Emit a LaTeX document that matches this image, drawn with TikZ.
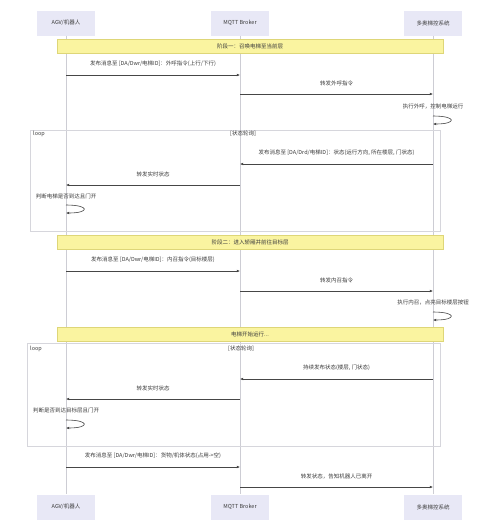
\documentclass[tikz,border=0pt]{standalone}
\usepackage{fontspec}
\setmainfont{Noto Sans CJK SC}
\usepackage{tikz}
\usetikzlibrary{arrows.meta,calc}

\definecolor{actorfill}{RGB}{232,232,246}
\definecolor{bandfill}{RGB}{250,244,160}
\definecolor{bandline}{RGB}{222,214,120}
\definecolor{lifegray}{RGB}{205,205,212}
\definecolor{framegray}{RGB}{214,214,220}
\definecolor{msggray}{RGB}{70,70,70}
\definecolor{txtgray}{RGB}{60,60,60}

\tikzset{
    actor/.style={fill=actorfill, minimum width=58pt, minimum height=25pt,
        inner sep=0pt, font=\fontsize{5.5}{6}\selectfont, text=txtgray},
    life/.style={draw=lifegray, line width=0.5pt},
    band/.style={fill=bandfill, draw=bandline, line width=0.4pt,
        minimum width=386pt, minimum height=14pt, inner sep=0pt,
        font=\fontsize{5.5}{6}\selectfont, text=txtgray},
    loopframe/.style={draw=framegray, line width=0.6pt},
    msg/.style={draw=msggray, line width=0.6pt, -{Latex[length=3.2pt,width=2.8pt]}},
    lbl/.style={font=\fontsize{5.5}{6}\selectfont, text=txtgray, inner sep=0pt}
}

\begin{document}
\begin{tikzpicture}[x=1pt,y=-1pt]
    \useasboundingbox[fill=white] (0,0) rectangle (500,531);

    % draw participants
    \node[actor] (agvT) at (66,23)  {AGV/机器人};
    \node[actor] (brkT) at (240,23) {MQTT Broker};
    \node[actor] (ctlT) at (433,23) {多奥梯控系统};
    \node[actor] (agvB) at (66,507)  {AGV/机器人};
    \node[actor] (brkB) at (240,507) {MQTT Broker};
    \node[actor] (ctlB) at (433,507) {多奥梯控系统};

    % draw lifelines
    \foreach \p in {agv,brk,ctl}
    \draw[life] (\p T) -- (\p B);

    % draw loop frames
    \draw[loopframe] (30,130) rectangle (440,231);
    \node[lbl, anchor=west] (loopA) at (33,134) {loop};
    \node[lbl] (condA) at (243,134) {[状态轮询]};
    \draw[loopframe] (27,343) rectangle (440,446);
    \node[lbl, anchor=west] (loopB) at (30,349) {loop};
    \node[lbl] (condB) at (241,349) {[状态轮询]};

    % draw phase bands
    \node[band] (ph1) at (250,46)    {阶段一：召唤电梯至当前层};
    \node[band] (ph2) at (250,242.5) {阶段二：进入轿厢并前往目标层};
    \node[band] (ph3) at (250,334)   {电梯开始运行...};

    % phase one
    \draw[msg] (agvT |- 0,75) -- node[lbl, above=8pt] {发布消息至 [DA/Dwr/电梯ID]：外呼指令(上行/下行)} (brkT |- 0,75);
    \draw[msg] (brkT |- 0,94) -- node[lbl, above=8pt] {转发外呼指令} (ctlT |- 0,94);
    \node[lbl] (s1) at (ctlT |- 0,106) {执行外呼，控制电梯运行};
    \draw[msg] (ctlT |- 0,116) .. controls +(24,0) and +(24,0) .. (ctlT |- 0,124);

    % first polling loop
    \draw[msg] (ctlT |- 0,164) -- node[lbl, above=8pt] {发布消息至 [DA/Drd/电梯ID]：状态(运行方向, 所在楼层, 门状态)} (brkT |- 0,164);
    \draw[msg] (brkT |- 0,185) -- node[lbl, above=8pt] {转发实时状态} (agvT |- 0,185);
    \node[lbl] (s2) at (agvT |- 0,196) {判断电梯是否到达且门开};
    \draw[msg] (agvT |- 0,205) .. controls +(24,0) and +(24,0) .. (agvT |- 0,213);

    % phase two
    \draw[msg] (agvT |- 0,271) -- node[lbl, above=8pt] {发布消息至 [DA/Dwr/电梯ID]：内召指令(目标楼层)} (brkT |- 0,271);
    \draw[msg] (brkT |- 0,291) -- node[lbl, above=8pt] {转发内召指令} (ctlT |- 0,291);
    \node[lbl] (s3) at (ctlT |- 0,302) {执行内召，点亮目标楼层按钮};
    \draw[msg] (ctlT |- 0,312) .. controls +(24,0) and +(24,0) .. (ctlT |- 0,320);

    % second polling loop
    \draw[msg] (ctlT |- 0,379) -- node[lbl, above=8pt] {持续发布状态(楼层, 门状态)} (brkT |- 0,379);
    \draw[msg] (brkT |- 0,399) -- node[lbl, above=8pt] {转发实时状态} (agvT |- 0,399);
    \node[lbl] (s4) at (agvT |- 0,410) {判断是否到达目标层且门开};
    \draw[msg] (agvT |- 0,420) .. controls +(24,0) and +(24,0) .. (agvT |- 0,428);

    % leaving the car
    \draw[msg] (agvT |- 0,467) -- node[lbl, above=8pt] {发布消息至 [DA/Dwr/电梯ID]：货物/机体状态(占用->空)} (brkT |- 0,467);
    \draw[msg] (brkT |- 0,487) -- node[lbl, above=8pt] {转发状态，告知机器人已离开} (ctlT |- 0,487);

\end{tikzpicture}
\end{document}
